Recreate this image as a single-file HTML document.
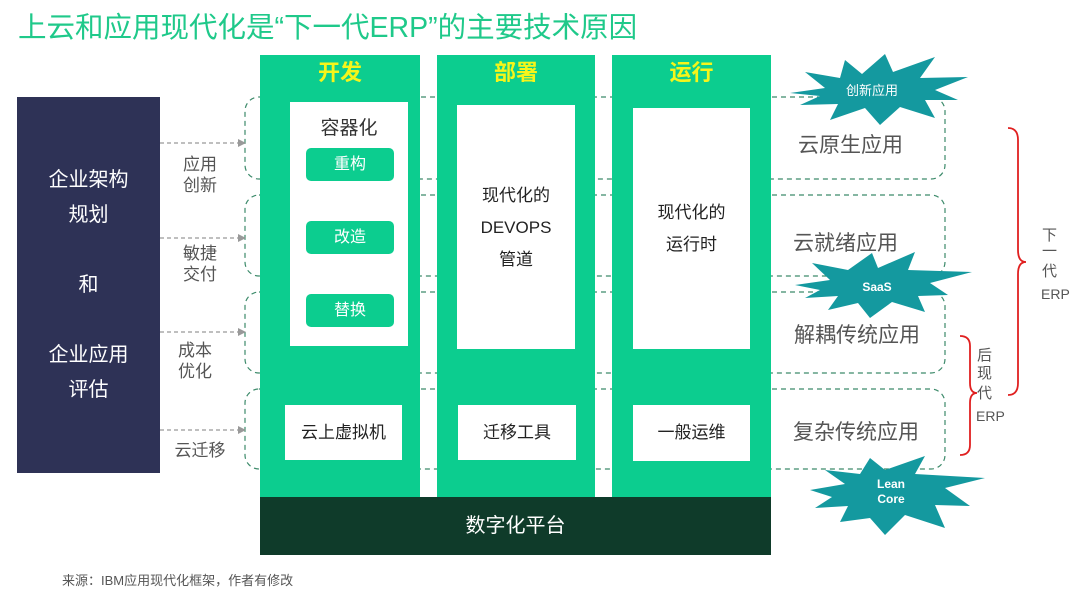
<!DOCTYPE html>
<html><head><meta charset="utf-8"><style>
body{margin:0;width:1080px;height:596px;background:#fff;position:relative;overflow:hidden;font-family:"Liberation Sans","Noto Sans CJK SC",sans-serif}
.a{position:absolute}
.col{position:absolute;background:#0ccd8f;top:55px;height:442px}
.hd{position:absolute;top:55px;color:#f6f51a;font-weight:bold;font-size:22px;text-align:center}
.wb{position:absolute;background:#fff;color:#333;text-align:center}
.btn{position:absolute;left:306px;width:88px;height:33px;background:#0ccd8f;border-radius:5px;color:#fff;font-size:16px;line-height:33px;text-align:center}
.lab{position:absolute;color:#555;font-size:17px;line-height:21px;text-align:center}
.rl{position:absolute;color:#555;font-size:21px}
</style></head><body>
<div class="a" style="left:18px;top:5px;font-size:28.5px;color:#1fc98a;white-space:nowrap">上云和应用现代化是“下一代ERP”的主要技术原因</div>

<svg class="a" style="left:0;top:0" width="1080" height="596">
<g fill="none" stroke="#3c8a6a" stroke-width="1.2" stroke-dasharray="5,4">
<rect x="245" y="97" width="700" height="82" rx="14"/>
<rect x="245" y="195" width="700" height="81" rx="14"/>
<rect x="245" y="292" width="700" height="81" rx="14"/>
<rect x="245" y="389" width="700" height="80" rx="14"/>
</g>
<g stroke="#999" stroke-width="1.3" stroke-dasharray="4,3">
<line x1="160" y1="143" x2="240" y2="143"/><line x1="160" y1="238" x2="240" y2="238"/>
<line x1="160" y1="332" x2="240" y2="332"/><line x1="160" y1="430" x2="240" y2="430"/>
</g>
<g fill="#999"><polygon points="246,143 238,139 238,147"/><polygon points="246,238 238,234 238,242"/><polygon points="246,332 238,328 238,336"/><polygon points="246,430 238,426 238,434"/></g>
</svg>

<div class="a" style="left:17px;top:97px;width:143px;height:376px;background:#2e3256"></div>
<div class="a" style="left:17px;top:163px;width:143px;text-align:center;color:#fff;font-size:20px;line-height:35px">企业架构<br>规划<br><br>和<br><br>企业应用<br>评估</div>

<div class="lab" style="left:175px;top:154px;width:50px">应用<br>创新</div>
<div class="lab" style="left:175px;top:243px;width:50px">敏捷<br>交付</div>
<div class="lab" style="left:170px;top:340px;width:50px">成本<br>优化</div>
<div class="lab" style="left:170px;top:440px;width:60px">云迁移</div>

<div class="col" style="left:260px;width:160px"></div>
<div class="col" style="left:437px;width:158px"></div>
<div class="col" style="left:612px;width:159px"></div>
<div class="hd" style="left:260px;width:160px">开发</div>
<div class="hd" style="left:437px;width:158px">部署</div>
<div class="hd" style="left:612px;width:159px">运行</div>

<div class="wb" style="left:290px;top:102px;width:118px;height:244px;font-size:19px;padding-top:11px;box-sizing:border-box">容器化</div>
<div class="btn" style="top:148px">重构</div>
<div class="btn" style="top:221px">改造</div>
<div class="btn" style="top:294px">替换</div>
<div class="wb" style="left:285px;top:405px;width:117px;height:55px;line-height:55px;font-size:17px;color:#222">云上虚拟机</div>

<div class="wb" style="left:457px;top:105px;width:118px;height:244px;font-size:17px;line-height:32px;padding-top:75px;box-sizing:border-box;color:#222">现代化的<br>DEVOPS<br>管道</div>
<div class="wb" style="left:458px;top:405px;width:118px;height:55px;line-height:55px;font-size:17px;color:#222">迁移工具</div>

<div class="wb" style="left:633px;top:108px;width:117px;height:241px;font-size:17px;line-height:32px;padding-top:89px;box-sizing:border-box;color:#222">现代化的<br>运行时</div>
<div class="wb" style="left:633px;top:405px;width:117px;height:56px;line-height:56px;font-size:17px;color:#222">一般运维</div>

<div class="a" style="left:260px;top:497px;width:511px;height:58px;background:#0f3b2a;color:#fff;font-size:20px;line-height:58px;text-align:center">数字化平台</div>

<div class="rl" style="left:798px;top:129px">云原生应用</div>
<div class="rl" style="left:793px;top:227px">云就绪应用</div>
<div class="rl" style="left:794px;top:319px">解耦传统应用</div>
<div class="rl" style="left:793px;top:416px">复杂传统应用</div>

<svg class="a" style="left:0;top:0" width="1080" height="596">
<g fill="#14999f">
<polygon points="790,93 825,88 805,72 840,78 845,60 862,74 885,54 893,72 935,57 920,78 968,77 935,90 958,100 925,100 935,118 900,107 880,125 865,108 830,120 838,104 800,105 820,96"/>
<polygon points="795,285 830,280 812,263 848,270 872,253 878,268 915,252 908,270 972,272 930,283 948,295 918,296 925,312 892,302 870,318 858,303 828,310 838,296 805,298 820,290"/>
<polygon points="810,490 845,484 825,470 860,474 870,458 885,470 925,456 915,474 985,478 945,488 970,506 935,505 945,528 905,515 885,535 870,518 840,522 848,506 815,508 832,497"/>
</g>
<g fill="#fff" font-family="Liberation Sans,Noto Sans CJK SC,sans-serif" font-size="13" text-anchor="middle">
<text x="872" y="95">创新应用</text>
<text x="877" y="291" font-weight="bold" font-size="12">SaaS</text>
<text x="891" y="488" font-weight="bold" font-size="12">Lean</text>
<text x="891" y="503" font-weight="bold" font-size="12">Core</text>
</g>
<g fill="none" stroke="#e02020" stroke-width="1.8">
<path d="M1008,128 Q1018,128 1018,140 L1018,250 Q1018,262 1026,262 Q1018,262 1018,274 L1018,383 Q1018,395 1008,395"/>
<path d="M960,336 Q970,336 970,346 L970,383 Q970,393 977,393 Q970,393 970,403 L970,445 Q970,455 960,455"/>
</g>
<g fill="#555" font-family="Liberation Sans,Noto Sans CJK SC,sans-serif" font-size="15">
<text x="1042" y="240">下</text><text x="1042" y="256">一</text><text x="1042" y="276">代</text><text x="1041" y="299" font-size="14">ERP</text>
<text x="977" y="360">后</text><text x="977" y="378">现</text><text x="977" y="398">代</text><text x="976" y="421" font-size="14">ERP</text>
</g>
</svg>

<div class="a" style="left:62px;top:570px;font-size:13px;color:#555">来源：IBM应用现代化框架，作者有修改</div>
</body></html>
